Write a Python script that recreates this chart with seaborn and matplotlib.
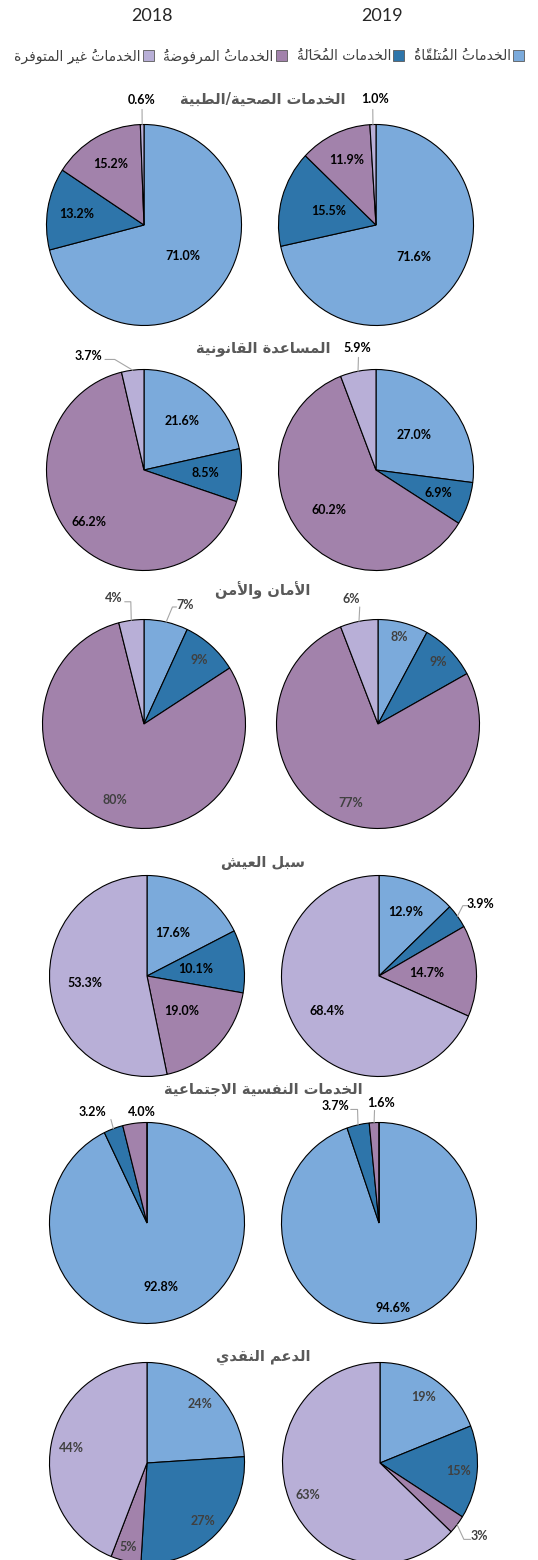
import numpy as np
import seaborn as sns
import matplotlib.pyplot as plt
from matplotlib.patches import Patch

# legend categories (slice order, clockwise from 12 o'clock)
categories = ['الخدماتُ المُتلَقّاةُ', 'الخدمات المُحَالَةُ', 'الخدماتُ المرفوضةُ', 'الخدماتُ غيرِ المتوفرة']
sectors = ['الخدمات الصحية/الطبية', 'المساعدة القانونية', 'الأمان والأمن',
           'سبل العيش', 'الخدمات النفسية الاجتماعية', 'الدعم النقدي']
years = ['2018', '2019']

health_2018 = [71.0, 13.2, 15.2, 0.6]
health_2019 = [71.6, 15.5, 11.9, 1.0]
legal_2018 = [21.6, 8.5, 66.2, 3.7]
legal_2019 = [27.0, 6.9, 60.2, 5.9]
safety_2018 = [7, 9, 80, 4]
safety_2019 = [8, 9, 77, 6]
livelihood_2018 = [17.6, 10.1, 19.0, 53.3]
livelihood_2019 = [12.9, 3.9, 14.7, 68.4]
psychosocial_2018 = [92.8, 3.2, 4.0, 0.0]
psychosocial_2019 = [94.6, 3.7, 1.6, 0.0]
cash_2018 = [24, 27, 5, 44]
cash_2019 = [19, 15, 3, 63]
decimals = [1, 1, 0, 1, 1, 0]

colors = sns.color_palette(['#7BAADB', '#2E75AA', '#A282AB', '#B8AFD7'])

# ---- minimal arabic shaping (matplotlib has no complex text layout) ----
MARKS = set(chr(c) for c in range(0x064B, 0x0653))
FORMS = {
    'ا': (0xFE8D, 2), 'أ': (0xFE83, 2), 'ب': (0xFE8F, 4), 'ة': (0xFE93, 2),
    'ت': (0xFE95, 4), 'ج': (0xFE9D, 4), 'ح': (0xFEA1, 4), 'خ': (0xFEA5, 4),
    'د': (0xFEA9, 2), 'ر': (0xFEAD, 2), 'س': (0xFEB1, 4), 'ش': (0xFEB5, 4),
    'ص': (0xFEB9, 4), 'ض': (0xFEBD, 4), 'ط': (0xFEC1, 4), 'ع': (0xFEC9, 4),
    'غ': (0xFECD, 4), 'ف': (0xFED1, 4), 'ق': (0xFED5, 4), 'ل': (0xFEDD, 4),
    'م': (0xFEE1, 4), 'ن': (0xFEE5, 4), 'و': (0xFEED, 2), 'ي': (0xFEF1, 4),
    'لا': (0xFEFB, 2), 'لأ': (0xFEF7, 2),
}


def shape(text):
    clusters = []
    for ch in text:
        if ch in MARKS and clusters:
            clusters[-1][1] += ch
        elif ch in 'اأ' and clusters and clusters[-1][0] == 'ل':
            clusters[-1][0] += ch
        else:
            clusters.append([ch, ''])
    out = []
    for i, (base, marks) in enumerate(clusters):
        if base not in FORMS:
            out.append(marks + base)
            continue
        start, n = FORMS[base]
        prev = clusters[i - 1][0] if i > 0 else ''
        nxt = clusters[i + 1][0] if i + 1 < len(clusters) else ''
        join_prev = prev in FORMS and FORMS[prev][1] == 4
        join_next = n == 4 and nxt in FORMS
        k = 3 if (join_prev and join_next) else 1 if join_prev else 2 if join_next else 0
        # zero-width marks go first so they sit over their own letter
        out.append(marks + chr(start + k))
    return ''.join(reversed(out))


sns.set_theme(style='white')
plt.rcParams['font.family'] = ['Lato', 'DejaVu Sans']

W, H = 538, 1560
fig = plt.figure(figsize=(W / 100, H / 100), dpi=100)

# layout (pixels)
row_cy = [225, 470, 724, 976, 1223, 1463]
left_cx = [144, 144, 144, 147, 147, 147]
right_cx = [376, 376, 378, 379, 379, 380]
rx = [98, 98, 102, 98, 98, 98]
ry = [101, 101, 105, 101, 101, 101]
title_y = [99, 349, 590, 862, 1089, 1357]

# label radial distance per slice, None = outside label
inside = [
    [[0.5, 0.7, 0.7, None], [0.5, 0.5, 0.71, None]],
    [[0.62, 0.63, 0.76, None], [0.52, 0.68, 0.63, None]],
    [[None, 0.82, 0.78, None], [0.86, 0.84, 0.8, None]],
    [[0.5, 0.5, 0.5, 0.64], [0.69, None, 0.49, 0.64]],
    [[0.65, None, None, 0], [0.86, None, None, 0]],
    [[0.8, 0.81, 0.86, 0.79], [0.8, 0.81, None, 0.81]],
]
# outside labels: (row, year, slice) -> label pos, leader points (radius units)
outside = {
    (0, 0, 3): ((-0.02, 1.24), [(-0.02, 1.15)]),
    (0, 1, 3): ((-0.01, 1.25), [(-0.033, 1.15)]),
    (1, 0, 3): ((-0.57, 1.13), [(-0.40, 1.10), (-0.30, 1.10)]),
    (1, 1, 3): ((-0.19, 1.21), [(-0.18, 1.12)]),
    (2, 0, 0): ((0.41, 1.14), [(0.32, 1.12), (0.28, 1.12)]),
    (2, 0, 3): ((-0.30, 1.21), [(-0.19, 1.17), (-0.13, 1.17)]),
    (2, 1, 3): ((-0.26, 1.20), [(-0.18, 1.12)]),
    (3, 1, 1): ((1.04, 0.72), [(0.90, 0.70), (0.86, 0.70)]),
    (4, 0, 1): ((-0.56, 1.10), [(-0.37, 1.03)]),
    (4, 0, 2): ((-0.05, 1.10), []),
    (4, 1, 1): ((-0.45, 1.16), [(-0.29, 1.13), (-0.22, 1.13)]),
    (4, 1, 2): ((0.02, 1.19), [(-0.046, 1.12)]),
    (5, 1, 2): ((1.02, -0.73), [(0.93, -0.76), (0.86, -0.76)]),
}

data = [(health_2018, health_2019), (legal_2018, legal_2019), (safety_2018, safety_2019),
        (livelihood_2018, livelihood_2019), (psychosocial_2018, psychosocial_2019),
        (cash_2018, cash_2019)]

for r, pair in enumerate(data):
    for yi, vals in enumerate(pair):
        cx = left_cx[r] if yi == 0 else right_cx[r]
        cy = row_cy[r]
        ax = fig.add_axes([(cx - rx[r]) / W, 1 - (cy + ry[r]) / H, 2 * rx[r] / W, 2 * ry[r] / H])
        ax.pie(vals, colors=colors, startangle=90, counterclock=False, radius=1,
               wedgeprops=dict(edgecolor='black', linewidth=0.8))
        ax.set_aspect('auto')
        ax.set_xlim(-1.005, 1.005)
        ax.set_ylim(-1.005, 1.005)
        ax.axis('off')

        v = np.array(vals, dtype=float)
        mids = (np.cumsum(v) - v / 2) / v.sum() * 2 * np.pi
        dec = decimals[r]
        txtcolor = 'black' if dec else '#404040'
        for s, val in enumerate(vals):
            d = inside[r][yi][s]
            if d == 0:
                continue
            label = f'{val:.{dec}f}%'
            if d is None:
                (lx, ly), pts = outside[(r, yi, s)]
                edge = (np.sin(mids[s]), np.cos(mids[s]))
                if pts:
                    xs = [p[0] for p in pts] + [edge[0]]
                    ys = [p[1] for p in pts] + [edge[1]]
                    ax.plot(xs, ys, color='#A6A6A6', lw=0.8, clip_on=False)
            else:
                lx, ly = d * np.sin(mids[s]), d * np.cos(mids[s])
            ax.text(lx, ly, label, ha='center', va='center', fontsize=9,
                    fontweight='bold', color=txtcolor, family=['Lato', 'DejaVu Sans'])

    fig.text(263 / W, 1 - title_y[r] / H, shape(sectors[r]), ha='center', va='center',
             fontsize=10.5, fontweight='bold', color='#595959', family=['DejaVu Sans'])

for yi, yr in enumerate(years):
    fig.text((152 if yi == 0 else 382) / W, 1 - 16 / H, yr, ha='center', va='center',
             fontsize=13, color='#262626', family=['Lato'])

handles = [Patch(facecolor=c, edgecolor='#595959', linewidth=0.6) for c in colors]
order = [3, 2, 1, 0]
fig.legend([handles[i] for i in order], [shape(categories[i]) for i in order],
           loc='center', bbox_to_anchor=(0.5, 1 - 56 / H), ncol=4, frameon=False,
           markerfirst=False, handlelength=0.8, handleheight=0.8, handletextpad=0.15,
           columnspacing=0.7, labelcolor='#404040',
           prop={'family': 'DejaVu Sans', 'size': 10})

fig.savefig('out.png', dpi=100)
